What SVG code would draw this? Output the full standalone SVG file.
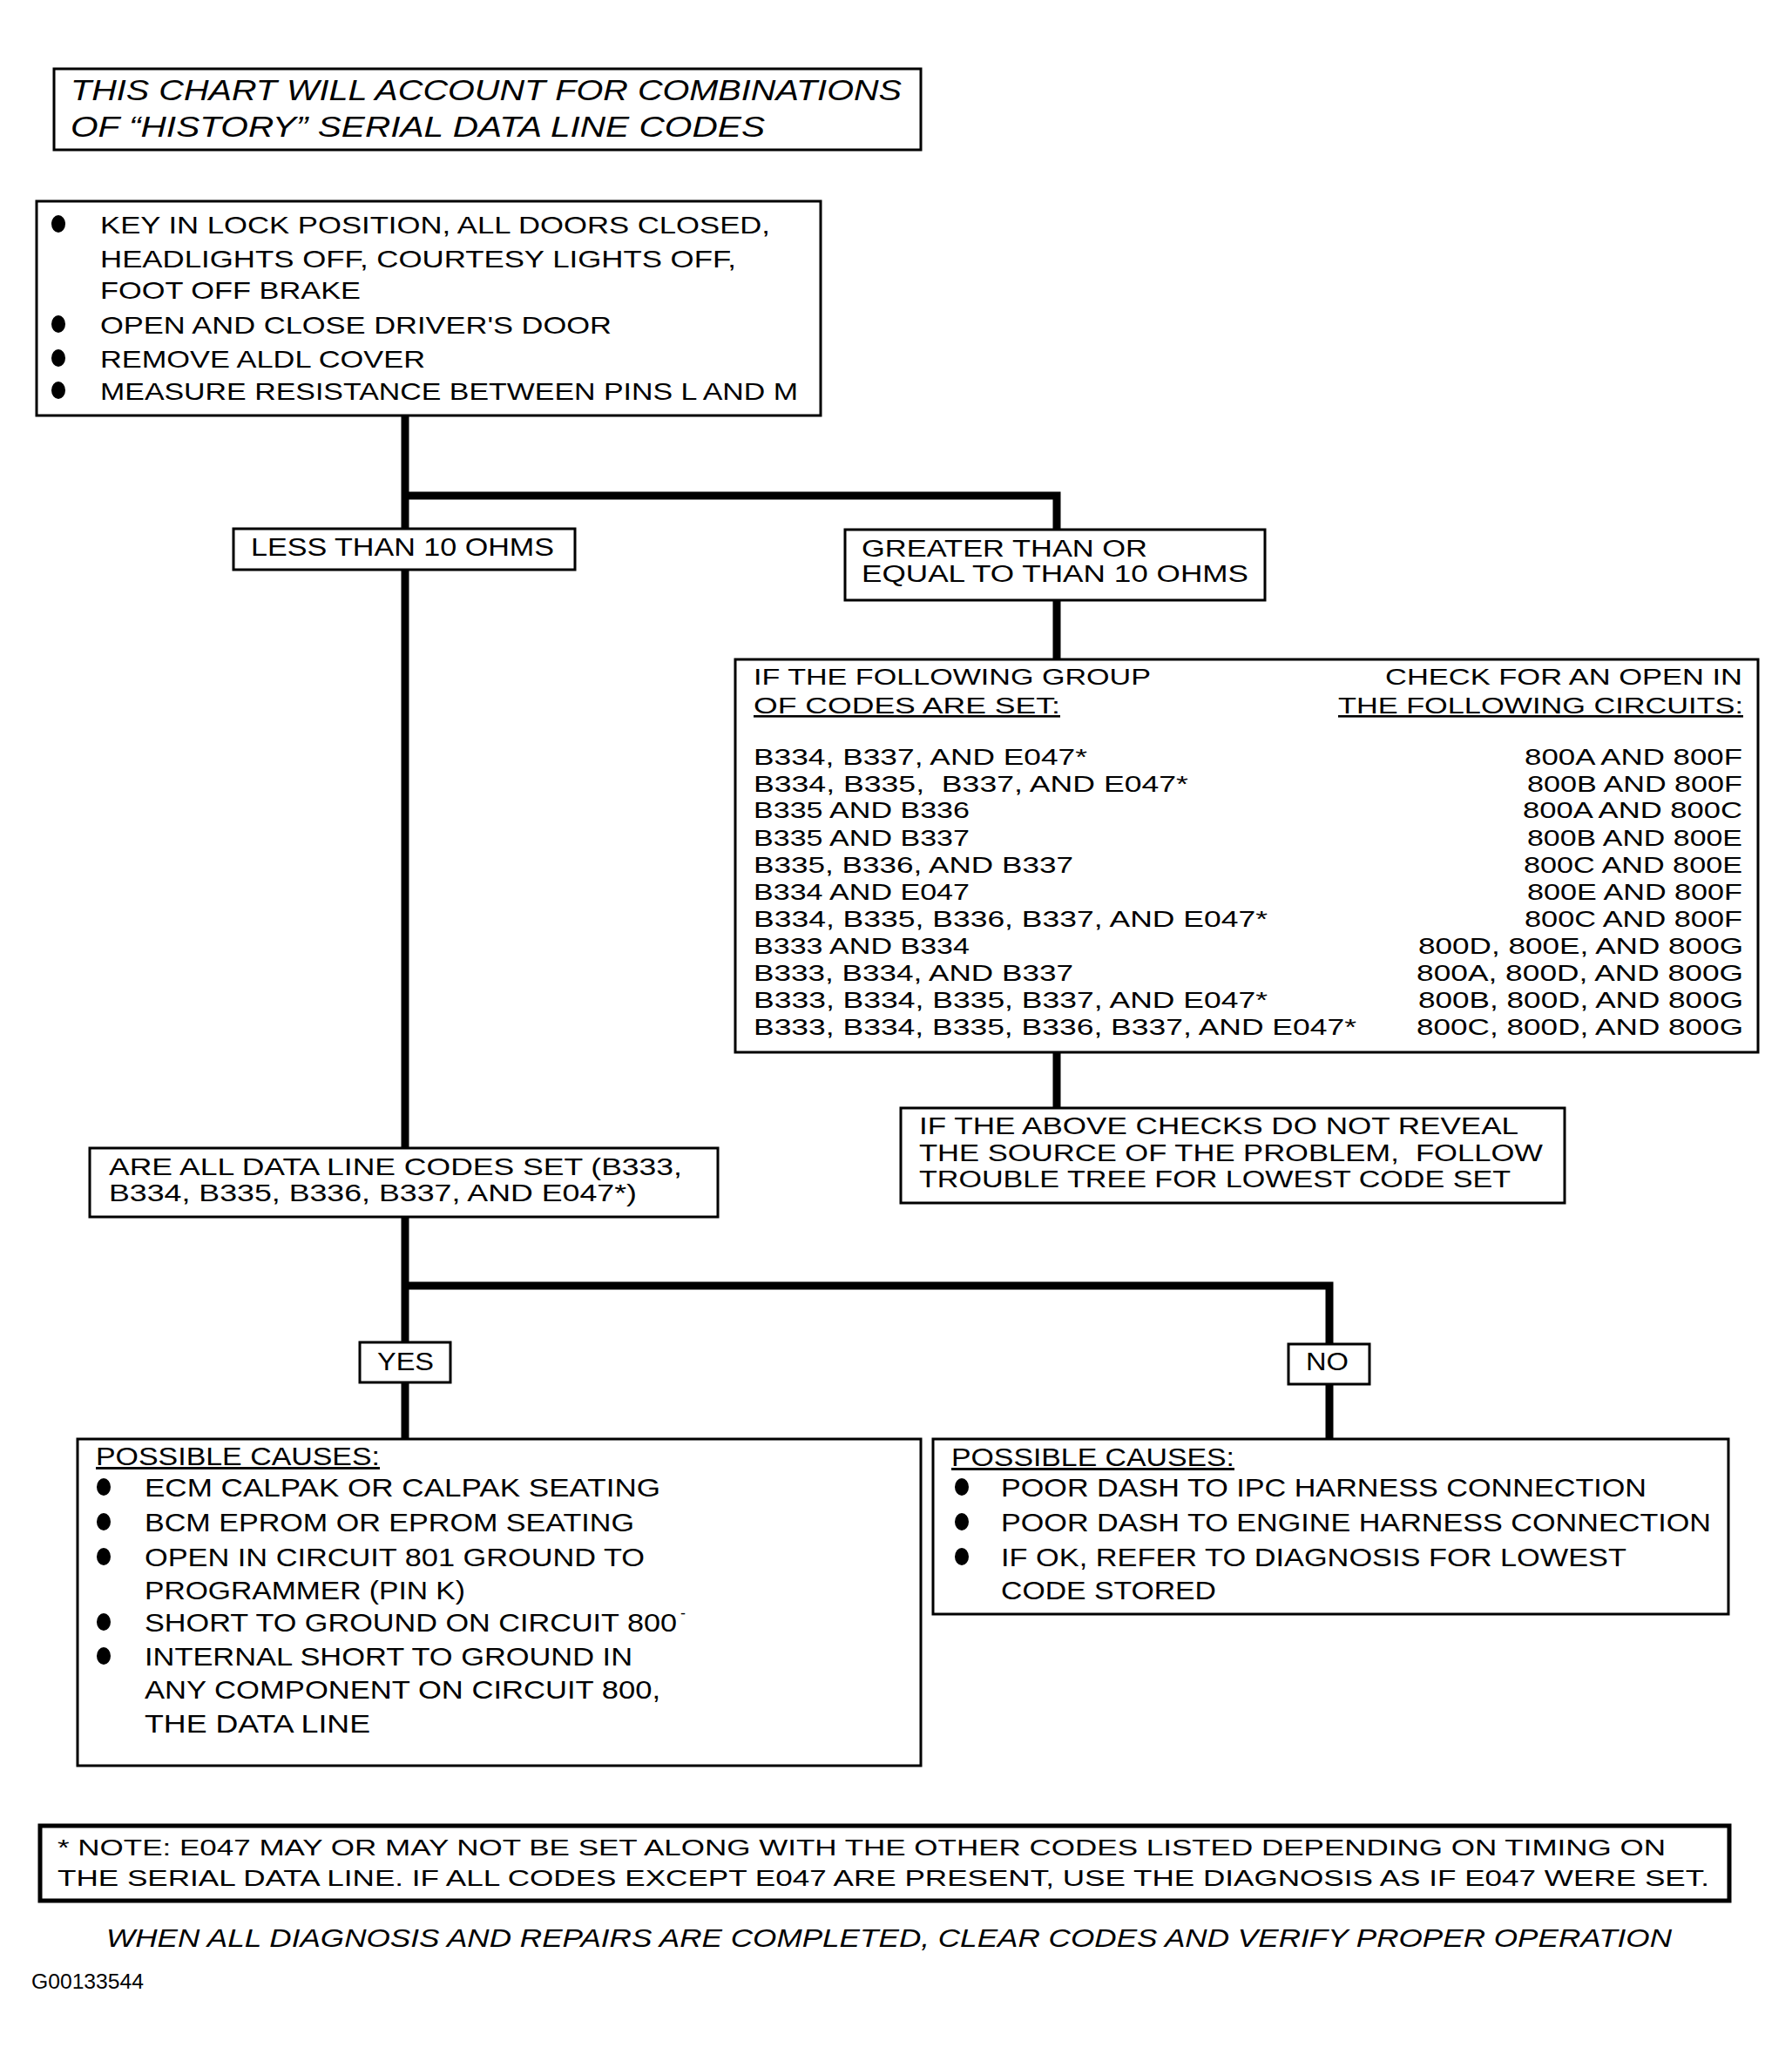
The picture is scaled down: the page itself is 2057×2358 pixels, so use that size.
<svg xmlns="http://www.w3.org/2000/svg" width="2057" height="2358" viewBox="0 0 2057 2358">
<style>
text{font-family:"Liberation Sans",Arial,sans-serif;fill:#000;white-space:pre}
.box{fill:#fff;stroke:#000;stroke-width:3}
.note{fill:#fff;stroke:#000;stroke-width:5}
.conn{fill:none;stroke:#000;stroke-width:9;stroke-linejoin:miter}
.t28{font-size:28px}
.t26{font-size:26px}
.t29{font-size:29px}
.t27{font-size:27px}
.it{font-style:italic}
.ul{text-decoration:underline}
</style>
<rect width="2057" height="2358" fill="#fff"/>
<g id="connectors">
<path class="conn" d="M465 477 V1318"/>
<path class="conn" d="M465 569 H1213 V757"/>
<path class="conn" d="M1213 1208 V1272"/>
<path class="conn" d="M465 1397 V1652"/>
<path class="conn" d="M465 1476 H1526 V1652"/>
</g>
<g id="title">
<rect class="box" x="62" y="79" width="995" height="93"/>
<text class="it" font-size="33" x="81" y="115" textLength="954" lengthAdjust="spacingAndGlyphs">THIS CHART WILL ACCOUNT FOR COMBINATIONS</text>
<text class="it" font-size="33" x="81" y="157" textLength="797" lengthAdjust="spacingAndGlyphs">OF “HISTORY” SERIAL DATA LINE CODES</text>
</g>
<g id="start">
<rect class="box" x="42" y="231" width="900" height="246"/>
<ellipse cx="67" cy="257" rx="8" ry="10"/>
<ellipse cx="67" cy="372" rx="8" ry="10"/>
<ellipse cx="67" cy="411" rx="8" ry="10"/>
<ellipse cx="67" cy="448" rx="8" ry="10"/>
<text class="t28" x="115" y="268" textLength="769" lengthAdjust="spacingAndGlyphs">KEY IN LOCK POSITION, ALL DOORS CLOSED,</text>
<text class="t28" x="115" y="307" textLength="730" lengthAdjust="spacingAndGlyphs">HEADLIGHTS OFF, COURTESY LIGHTS OFF,</text>
<text class="t28" x="115" y="343" textLength="299" lengthAdjust="spacingAndGlyphs">FOOT OFF BRAKE</text>
<text class="t28" x="115" y="383" textLength="587" lengthAdjust="spacingAndGlyphs">OPEN AND CLOSE DRIVER'S DOOR</text>
<text class="t28" x="115" y="422" textLength="373" lengthAdjust="spacingAndGlyphs">REMOVE ALDL COVER</text>
<text class="t28" x="115" y="459" textLength="801" lengthAdjust="spacingAndGlyphs">MEASURE RESISTANCE BETWEEN PINS L AND M</text>
</g>
<g id="less">
<rect class="box" x="268" y="607" width="392" height="47"/>
<text class="t29" x="288" y="638" textLength="348" lengthAdjust="spacingAndGlyphs">LESS THAN 10 OHMS</text>
</g>
<g id="greater">
<rect class="box" x="970" y="608" width="482" height="81"/>
<text class="t27" x="989" y="639" textLength="328" lengthAdjust="spacingAndGlyphs">GREATER THAN OR</text>
<text class="t27" x="989" y="668" textLength="444" lengthAdjust="spacingAndGlyphs">EQUAL TO THAN 10 OHMS</text>
</g>
<g id="codes">
<rect class="box" x="844" y="757" width="1174" height="451"/>
<text class="t26" x="865" y="786" textLength="456" lengthAdjust="spacingAndGlyphs">IF THE FOLLOWING GROUP</text>
<text class="t26 ul" x="865" y="819" textLength="352" lengthAdjust="spacingAndGlyphs">OF CODES ARE SET:</text>
<text class="t26" x="1590" y="786" textLength="410" lengthAdjust="spacingAndGlyphs">CHECK FOR AN OPEN IN</text>
<text class="t26 ul" x="1536" y="819" textLength="465" lengthAdjust="spacingAndGlyphs">THE FOLLOWING CIRCUITS:</text>
<text class="t26" x="865" y="878" textLength="383" lengthAdjust="spacingAndGlyphs">B334, B337, AND E047*</text>
<text class="t26" x="865" y="909" textLength="499" lengthAdjust="spacingAndGlyphs">B334, B335,  B337, AND E047*</text>
<text class="t26" x="865" y="939" textLength="248" lengthAdjust="spacingAndGlyphs">B335 AND B336</text>
<text class="t26" x="865" y="971" textLength="248" lengthAdjust="spacingAndGlyphs">B335 AND B337</text>
<text class="t26" x="865" y="1002" textLength="367" lengthAdjust="spacingAndGlyphs">B335, B336, AND B337</text>
<text class="t26" x="865" y="1033" textLength="248" lengthAdjust="spacingAndGlyphs">B334 AND E047</text>
<text class="t26" x="865" y="1064" textLength="590" lengthAdjust="spacingAndGlyphs">B334, B335, B336, B337, AND E047*</text>
<text class="t26" x="865" y="1095" textLength="248" lengthAdjust="spacingAndGlyphs">B333 AND B334</text>
<text class="t26" x="865" y="1126" textLength="367" lengthAdjust="spacingAndGlyphs">B333, B334, AND B337</text>
<text class="t26" x="865" y="1157" textLength="590" lengthAdjust="spacingAndGlyphs">B333, B334, B335, B337, AND E047*</text>
<text class="t26" x="865" y="1188" textLength="692" lengthAdjust="spacingAndGlyphs">B333, B334, B335, B336, B337, AND E047*</text>
<text class="t26" x="1750" y="878" textLength="250" lengthAdjust="spacingAndGlyphs">800A AND 800F</text>
<text class="t26" x="1753" y="909" textLength="247" lengthAdjust="spacingAndGlyphs">800B AND 800F</text>
<text class="t26" x="1748" y="939" textLength="252" lengthAdjust="spacingAndGlyphs">800A AND 800C</text>
<text class="t26" x="1753" y="971" textLength="247" lengthAdjust="spacingAndGlyphs">800B AND 800E</text>
<text class="t26" x="1749" y="1002" textLength="251" lengthAdjust="spacingAndGlyphs">800C AND 800E</text>
<text class="t26" x="1753" y="1033" textLength="247" lengthAdjust="spacingAndGlyphs">800E AND 800F</text>
<text class="t26" x="1750" y="1064" textLength="250" lengthAdjust="spacingAndGlyphs">800C AND 800F</text>
<text class="t26" x="1628" y="1095" textLength="373" lengthAdjust="spacingAndGlyphs">800D, 800E, AND 800G</text>
<text class="t26" x="1626" y="1126" textLength="375" lengthAdjust="spacingAndGlyphs">800A, 800D, AND 800G</text>
<text class="t26" x="1628" y="1157" textLength="373" lengthAdjust="spacingAndGlyphs">800B, 800D, AND 800G</text>
<text class="t26" x="1626" y="1188" textLength="375" lengthAdjust="spacingAndGlyphs">800C, 800D, AND 800G</text>
</g>
<g id="above">
<rect class="box" x="1034" y="1272" width="762" height="109"/>
<text class="t27" x="1055" y="1302" textLength="688" lengthAdjust="spacingAndGlyphs">IF THE ABOVE CHECKS DO NOT REVEAL</text>
<text class="t27" x="1055" y="1333" textLength="716" lengthAdjust="spacingAndGlyphs">THE SOURCE OF THE PROBLEM,  FOLLOW</text>
<text class="t27" x="1055" y="1363" textLength="679" lengthAdjust="spacingAndGlyphs">TROUBLE TREE FOR LOWEST CODE SET</text>
</g>
<g id="areall">
<rect class="box" x="103" y="1318" width="721" height="79"/>
<text class="t28" x="125" y="1349" textLength="658" lengthAdjust="spacingAndGlyphs">ARE ALL DATA LINE CODES SET (B333,</text>
<text class="t28" x="125" y="1379" textLength="606" lengthAdjust="spacingAndGlyphs">B334, B335, B336, B337, AND E047*)</text>
</g>
<g id="yes">
<rect class="box" x="413" y="1541" width="104" height="46"/>
<text class="t29" x="433" y="1573" textLength="65" lengthAdjust="spacingAndGlyphs">YES</text>
</g>
<g id="no">
<rect class="box" x="1479" y="1543" width="93" height="46"/>
<text class="t29" x="1499" y="1573" textLength="49" lengthAdjust="spacingAndGlyphs">NO</text>
</g>
<g id="causes-yes">
<rect class="box" x="89" y="1652" width="968" height="375"/>
<text class="t29 ul" x="110" y="1682" textLength="326" lengthAdjust="spacingAndGlyphs">POSSIBLE CAUSES:</text>
<ellipse cx="119" cy="1707" rx="8" ry="10"/>
<ellipse cx="119" cy="1747" rx="8" ry="10"/>
<ellipse cx="119" cy="1787" rx="8" ry="10"/>
<ellipse cx="119" cy="1862" rx="8" ry="10"/>
<ellipse cx="119" cy="1901" rx="8" ry="10"/>
<text class="t29" x="166" y="1718" textLength="592" lengthAdjust="spacingAndGlyphs">ECM CALPAK OR CALPAK SEATING</text>
<text class="t29" x="166" y="1758" textLength="562" lengthAdjust="spacingAndGlyphs">BCM EPROM OR EPROM SEATING</text>
<text class="t29" x="166" y="1798" textLength="574" lengthAdjust="spacingAndGlyphs">OPEN IN CIRCUIT 801 GROUND TO</text>
<text class="t29" x="166" y="1836" textLength="368" lengthAdjust="spacingAndGlyphs">PROGRAMMER (PIN K)</text>
<text class="t29" x="166" y="1873" textLength="611" lengthAdjust="spacingAndGlyphs">SHORT TO GROUND ON CIRCUIT 800</text>
<text font-size="18" x="781" y="1858">-</text>
<text class="t29" x="166" y="1912" textLength="560" lengthAdjust="spacingAndGlyphs">INTERNAL SHORT TO GROUND IN</text>
<text class="t29" x="166" y="1950" textLength="592" lengthAdjust="spacingAndGlyphs">ANY COMPONENT ON CIRCUIT 800,</text>
<text class="t29" x="166" y="1989" textLength="259" lengthAdjust="spacingAndGlyphs">THE DATA LINE</text>
</g>
<g id="causes-no">
<rect class="box" x="1071" y="1652" width="913" height="201"/>
<text class="t29 ul" x="1092" y="1683" textLength="325" lengthAdjust="spacingAndGlyphs">POSSIBLE CAUSES:</text>
<ellipse cx="1104" cy="1707" rx="8" ry="10"/>
<ellipse cx="1104" cy="1747" rx="8" ry="10"/>
<ellipse cx="1104" cy="1787" rx="8" ry="10"/>
<text class="t29" x="1149" y="1718" textLength="741" lengthAdjust="spacingAndGlyphs">POOR DASH TO IPC HARNESS CONNECTION</text>
<text class="t29" x="1149" y="1758" textLength="815" lengthAdjust="spacingAndGlyphs">POOR DASH TO ENGINE HARNESS CONNECTION</text>
<text class="t29" x="1149" y="1798" textLength="718" lengthAdjust="spacingAndGlyphs">IF OK, REFER TO DIAGNOSIS FOR LOWEST</text>
<text class="t29" x="1149" y="1836" textLength="247" lengthAdjust="spacingAndGlyphs">CODE STORED</text>
</g>
<g id="note">
<rect class="note" x="46" y="2096" width="1939" height="86"/>
<text font-size="26" x="66" y="2130" textLength="1846" lengthAdjust="spacingAndGlyphs">* NOTE: E047 MAY OR MAY NOT BE SET ALONG WITH THE OTHER CODES LISTED DEPENDING ON TIMING ON</text>
<text font-size="26" x="66" y="2165" textLength="1896" lengthAdjust="spacingAndGlyphs">THE SERIAL DATA LINE. IF ALL CODES EXCEPT E047 ARE PRESENT, USE THE DIAGNOSIS AS IF E047 WERE SET.</text>
</g>
<g id="footer">
<text class="it" font-size="29" x="122" y="2235" textLength="1797" lengthAdjust="spacingAndGlyphs">WHEN ALL DIAGNOSIS AND REPAIRS ARE COMPLETED, CLEAR CODES AND VERIFY PROPER OPERATION</text>
<text font-size="23" x="36" y="2283" textLength="129" lengthAdjust="spacingAndGlyphs">G00133544</text>
</g>
</svg>
